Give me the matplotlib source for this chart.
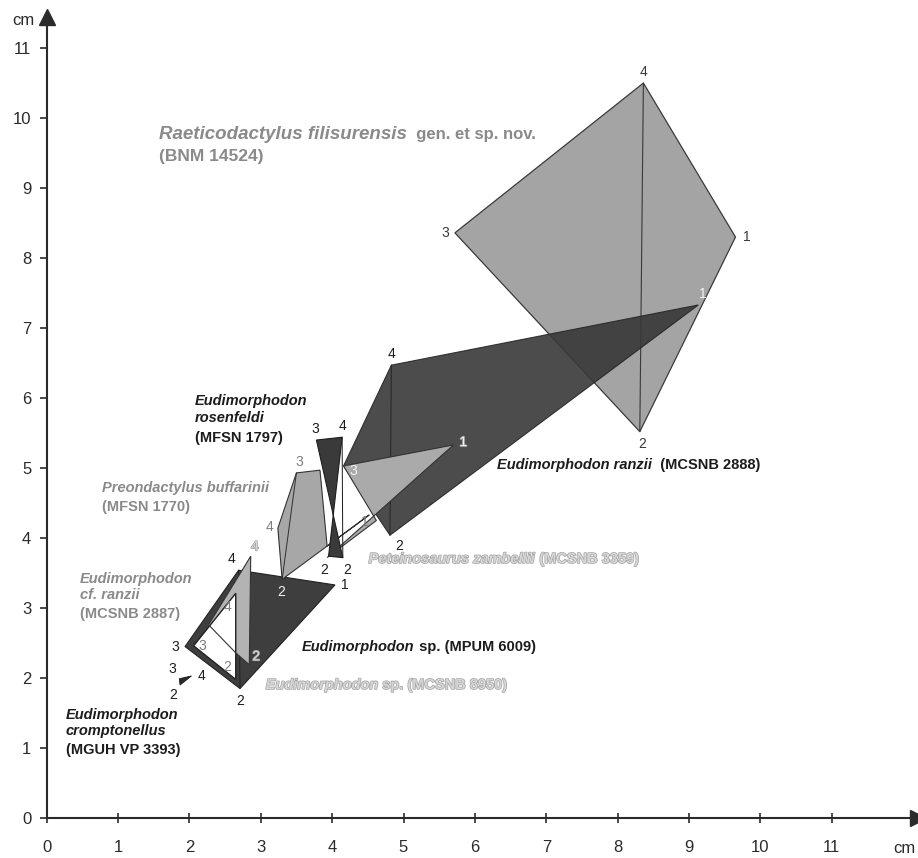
import matplotlib
matplotlib.use("Agg")
import matplotlib.pyplot as plt
import matplotlib.patheffects as pe

plt.rcParams['font.family'] = ['Liberation Sans', 'DejaVu Sans']

# ---------------- data (cm) ----------------
# Raeticodactylus filisurensis (BNM 14524)
raet_x = [9.65, 8.31, 5.72, 8.36]
raet_y = [8.30, 5.52, 8.36, 10.50]
raet_lab = ['1', '2', '3', '4']

# Eudimorphodon ranzii (MCSNB 2888)
ranz_x = [9.13, 4.81, 4.16, 4.83]
ranz_y = [7.33, 4.04, 5.03, 6.47]
ranz_lab = ['1', '2', '3', '4']

# Peteinosaurus zambellii (MCSNB 3359)
pete_x = [5.70, 3.93, 4.62, 4.16]
pete_y = [5.33, 3.72, 4.25, 5.03]
pete_lab = ['1', '2', '', '']

# Preondactylus buffarinii (MFSN 1770)
pre_x = [3.50, 3.83, 3.93, 4.52, 3.30, 3.24]
pre_y = [4.93, 4.97, 3.885, 4.33, 3.41, 4.14]
pre_lab = ['3', '', '', '1', '2', '4']

# Eudimorphodon rosenfeldi (MFSN 1797)
ros_x = [4.15, 3.78, 4.14, 3.95]
ros_y = [3.72, 5.40, 5.44, 3.74]
ros_lab = ['2', '3', '4', '']

# Eudimorphodon sp. (MPUM 6009)
mpum_x = [4.04, 2.71, 1.94, 2.69]
mpum_y = [3.33, 1.85, 2.45, 3.54]
mpum_lab = ['1', '2', '3', '4']

# Eudimorphodon sp. (MCSNB 8950)
m8950_x = [2.65, 2.84, 2.86, 2.27]
m8950_y = [2.36, 2.19, 3.74, 2.76]
m8950_lab = ['', '2', '4', '']

# Eudimorphodon cf. ranzii (MCSNB 2887)
cfr_x = [2.06, 2.65, 2.65]
cfr_y = [2.46, 3.21, 1.98]
cfr_lab = ['3', '4', '2']

# Eudimorphodon cromptonellus (MGUH VP 3393)
cro_x = [1.87, 1.86, 2.03]
cro_y = [1.90, 1.99, 2.03]
cro_lab = ['2', '3', '4']

ticks = list(range(0, 12))
tick_labels = [str(t) for t in ticks]

# ---------------- figure ----------------
fig = plt.figure(figsize=(9.18, 8.58), dpi=100)
ax = fig.add_axes([0.0507, 0.0466, 0.9488, 0.9341])
ax.set_xlim(0, 12.2)
ax.set_ylim(0, 11.45)

AX = '#2b2b2b'
for s in ['top', 'right']:
    ax.spines[s].set_visible(False)
for s in ['left', 'bottom']:
    ax.spines[s].set_color(AX)
    ax.spines[s].set_linewidth(1.5)
ax.plot([1], [0], marker='>', ms=11, color=AX, transform=ax.transAxes, clip_on=False)
ax.plot([0], [1], marker='^', ms=11, color=AX, transform=ax.transAxes, clip_on=False)
ax.set_xticks(ticks)
ax.set_xticklabels(tick_labels)
ax.set_yticks(ticks)
ax.set_yticklabels(tick_labels)
ax.tick_params(axis='x', direction='inout', length=7, width=1.2, pad=12,
               labelsize=12, colors=AX)
ax.tick_params(axis='y', direction='out', length=5, width=1.2, pad=6,
               labelsize=12, colors=AX)
ax.text(-0.33, 11.39, 'cm', ha='center', va='center', fontsize=12, color=AX, clip_on=False)
ax.text(12.02, -0.43, 'cm', ha='center', va='center', fontsize=12, color=AX, clip_on=False)

WHITE_HALO = [pe.withStroke(linewidth=1.0, foreground='#a0a0a0')]


def draw(xs, ys, labs, fill, edge, lw, z, labcols, offs, diag=None,
         alpha=1.0, sep_edges=None, halos=None):
    if sep_edges is None:
        ax.fill(xs, ys, facecolor=fill, edgecolor=edge, lw=lw, alpha=alpha,
                zorder=z, joinstyle='miter')
    else:
        ax.fill(xs, ys, facecolor=fill, edgecolor='none', zorder=z)
        ax.fill(xs, ys, facecolor='none', edgecolor=edge, lw=lw, zorder=sep_edges)
    if diag is not None:
        ax.plot([xs[i] for i in diag], [ys[i] for i in diag], color=edge,
                lw=lw * 0.9, zorder=(sep_edges or z) + 0.1)
    for i, (x, y, l) in enumerate(zip(xs, ys, labs)):
        if not l:
            continue
        kw = {}
        if halos and halos[i]:
            kw['path_effects'] = WHITE_HALO
        ax.annotate(l, (x, y), xytext=offs[i], textcoords='offset points',
                    ha='center', va='center', fontsize=10, color=labcols[i],
                    zorder=30, **kw)


BLK = '#1c1c1c'
GRY = '#7c7c7c'
WHT = '#f2f2f2'
LGT = '#d6d6d6'

draw(raet_x, raet_y, raet_lab, '#a4a4a4', '#3a3a3a', 0.9, 2,
     ['#3a3a3a'] * 4, [(8, 0), (2, -9), (-7, 0), (0, 8)], diag=(1, 3))
draw(ranz_x, ranz_y, ranz_lab, '#383838', '#262626', 0.8, 3,
     [WHT, BLK, WHT, BLK], [(3, 8), (7, -8), (7, -4), (0, 8)], diag=(1, 3),
     alpha=0.9)
draw(mpum_x, mpum_y, mpum_lab, '#3e3e3e', '#222222', 0.8, 3.5,
     [BLK] * 4, [(7, 0), (0, -9), (-7, 0), (-5, 8)], diag=(1, 3))
draw(pre_x, pre_y, pre_lab, '#a7a7a7', '#333333', 0.8, 4,
     [GRY, GRY, GRY, GRY, WHT, GRY], [(2, 8), (0, 0), (0, 0), (-3, -5), (-1, -9), (-6, 1)],
     diag=(0, 4))
draw(pete_x, pete_y, pete_lab, '#aaaaaa', '#333333', 0.8, 5,
     [WHT, BLK, BLK, BLK], [(7, 2), (-2, -9), (0, 0), (0, 0)],
     halos=[True, False, False, False])
draw(ros_x, ros_y, ros_lab, '#3a3a3a', '#1e1e1e', 0.8, 6,
     [BLK] * 4, [(3, -9), (-1, 8), (0, 8), (0, 0)], diag=(0, 2))
draw(m8950_x, m8950_y, m8950_lab, '#b3b3b3', '#333333', 0.8, 7,
     [LGT] * 4, [(0, 0), (5, 6), (3, 7), (0, 0)], sep_edges=9,
     halos=[True] * 4)
draw(cfr_x, cfr_y, cfr_lab, 'white', '#222222', 1.0, 8,
     [GRY] * 3, [(6, 0), (-6, -10), (-6, 9)])
draw(cro_x, cro_y, cro_lab, '#2a2a2a', '#1a1a1a', 0.6, 8,
     [BLK] * 3, [(-5, -7), (-5, 7), (7, 0)])

# ---------------- specimen names ----------------
LIGHT_FX = [pe.withStroke(linewidth=1.0, foreground='#a3a3a3')]
NFS = 10.5


def name_line(x, y, parts, color, fx=None, size=NFS):
    prev = None
    for txt, style in parts:
        kw = dict(fontsize=size, fontweight='bold', fontstyle=style, color=color,
                  zorder=40)
        if fx:
            kw['path_effects'] = fx
        if prev is None:
            prev = ax.text(x, y, txt, ha='left', va='center', **kw)
        else:
            prev = ax.annotate(txt, xy=(1, 0), xycoords=prev, ha='left',
                               va='bottom', **kw)
    return prev


RGRY = '#8a8a8a'
t = name_line(1.57, 9.76, [('Raeticodactylus filisurensis', 'italic')], RGRY, size=13.5)
ax.annotate('  gen. et sp. nov.', xy=(1, 0.08), xycoords=t, ha='left', va='bottom',
            fontsize=12, fontweight='bold', color=RGRY, zorder=40)
name_line(1.57, 9.45, [('(BNM 14524)', 'normal')], RGRY, size=12.5)

name_line(2.08, 5.96, [('Eudimorphodon', 'italic')], BLK)
name_line(2.08, 5.71, [('rosenfeldi', 'italic')], BLK)
name_line(2.08, 5.43, [('(MFSN 1797)', 'normal')], BLK)

name_line(0.77, 4.71, [('Preondactylus buffarinii', 'italic')], RGRY)
name_line(0.77, 4.45, [('(MFSN 1770)', 'normal')], RGRY)

name_line(0.47, 3.42, [('Eudimorphodon', 'italic')], RGRY)
name_line(0.47, 3.18, [('cf. ranzii', 'italic')], RGRY)
name_line(0.47, 2.91, [('(MCSNB 2887)', 'normal')], RGRY)

name_line(6.31, 5.04, [('Eudimorphodon ranzii', 'italic'), ('  (MCSNB 2888)', 'normal')], BLK)
name_line(4.51, 3.70, [('Peteinosaurus zambellii', 'italic'), (' (MCSNB 3359)', 'normal')],
          LGT, LIGHT_FX)
name_line(3.58, 2.45, [('Eudimorphodon', 'italic'), (' sp. (MPUM 6009)', 'normal')], BLK)
name_line(3.07, 1.90, [('Eudimorphodon', 'italic'), (' sp. (MCSNB 8950)', 'normal')],
          LGT, LIGHT_FX)

name_line(0.27, 1.47, [('Eudimorphodon', 'italic')], BLK)
name_line(0.27, 1.24, [('cromptonellus', 'italic')], BLK)
name_line(0.27, 0.97, [('(MGUH VP 3393)', 'normal')], BLK)

fig.savefig('out.png', dpi=100)
